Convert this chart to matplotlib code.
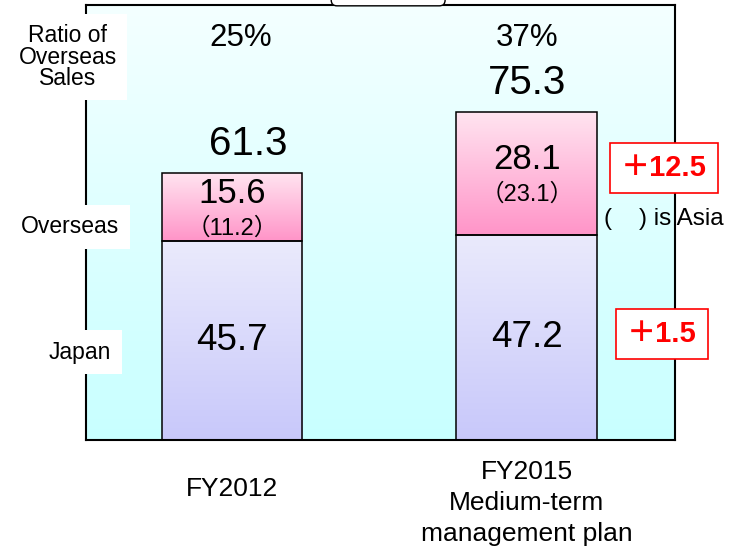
# stacked sales bars: Japan / Overseas, FY2012 vs FY2015 plan
import matplotlib.pyplot as plt
import numpy as np
from matplotlib.colors import LinearSegmentedColormap

years = ["FY2012", "FY2015\nMedium-term\nmanagement plan"]
japan = [45.7, 47.2]
overseas = [15.6, 28.1]
asia = [11.2, 23.1]
ratio = ["25%", "37%"]

totals = [j + o for j, o in zip(japan, overseas)]
FONT = ['Liberation Sans', 'Noto Sans CJK JP']
plt.rcParams['font.family'] = FONT


def grad_fill(ax, x0, x1, y0, y1, c_top, c_bot, z):
    cmap = LinearSegmentedColormap.from_list("g", [c_bot, c_top])
    g = np.linspace(0, 1, 256).reshape(-1, 1)
    ax.imshow(g, extent=(x0, x1, y0, y1), origin='lower', cmap=cmap,
              aspect='auto', zorder=z, interpolation='bicubic')


fig = plt.figure(figsize=(7.31, 5.5), dpi=100)
ax = fig.add_axes([86/731, 110/550, 589/731, 435/550])

xlim = (-0.495, 1.502)
ylim = (0, 100)
grad_fill(ax, xlim[0], xlim[1], ylim[0], ylim[1], '#f4ffff', '#c8ffff', 0)

x = np.arange(len(years))
w = 0.478
for i in range(len(years)):
    grad_fill(ax, x[i]-w/2, x[i]+w/2, 0, japan[i], '#eaeafc', '#c8c8fa', 1)
    grad_fill(ax, x[i]-w/2, x[i]+w/2, japan[i], totals[i], '#ffe4f0', '#ff94c8', 1)
ax.bar(x, japan, width=w, facecolor='none', edgecolor='black', lw=1.1, zorder=2)
ax.bar(x, overseas, bottom=japan, width=w, facecolor='none', edgecolor='black',
       lw=1.1, zorder=2)

ax.set_xlim(xlim)
ax.set_ylim(ylim)
ax.set_xticks([])
ax.set_yticks([])
for s in ax.spines.values():
    s.set_linewidth(1.5)

total_dx = [12, 0]
ratio_dx = [6, 0]
for i in range(len(years)):
    ax.annotate(f"{totals[i]:.1f}", (x[i], totals[i]), xytext=(total_dx[i], 13),
                textcoords='offset points', ha='center', va='baseline',
                fontsize=29)
    ax.annotate(ratio[i], (x[i], 0.925), xycoords=ax.get_xaxis_transform(),
                xytext=(ratio_dx[i], 0), textcoords='offset points',
                ha='center', va='center', fontsize=22.5)
    ax.annotate(f"{japan[i]:.1f}", (x[i], japan[i]/2), ha='center', va='center',
                fontsize=26.5)
    mid = japan[i] + overseas[i]/2
    ax.annotate(f"{overseas[i]:.1f}", (x[i], mid), xytext=(0, 10),
                textcoords='offset points', ha='center', va='center', fontsize=25)
    ax.annotate(f"（{asia[i]:.1f}）", (x[i], mid), xytext=(0, -15),
                textcoords='offset points', ha='center', va='center', fontsize=17)
    ax.text(x[i], -0.112 if i == 0 else -0.145, years[i],
            transform=ax.get_xaxis_transform(), ha='center', va='center',
            fontsize=19, linespacing=1.38)

# differences for the plan year
d_over = overseas[1] - overseas[0]
d_jp = japan[1] - japan[0]
red_box = dict(boxstyle='square,pad=0.38', fc='white', ec='red', lw=1.2)
ax.text(1.464, japan[1] + overseas[1]/2 + 1.2, f"＋{d_over:.1f}", ha='center',
        va='center', fontsize=21, weight='bold', color='red', bbox=red_box)
ax.text(1.457, japan[1]/2 + 0.7, f"＋{d_jp:.1f}", ha='center', va='center',
        fontsize=21, weight='bold', color='red', bbox=red_box)
ax.text(1.464, 50.7, "(    ) is Asia", ha='center', va='center', fontsize=17.5)

white = dict(boxstyle='square,pad=0.45', fc='white', ec='none')
ax.text(-0.0306, 0.88, "Ratio of\nOverseas\nSales", transform=ax.transAxes,
        ha='center', va='center', fontsize=16.5, linespacing=0.9, bbox=white)
ax.text(-0.027, 0.49, "Overseas", transform=ax.transAxes, ha='center',
        va='center', fontsize=16.5, bbox=white)
ax.text(-0.01, 0.202, "Japan", transform=ax.transAxes, ha='center',
        va='center', fontsize=16.5, bbox=white)

fig.text(0.531, 1.0, "(Billion yen)", ha='center', va='bottom', fontsize=14,
         bbox=dict(boxstyle='round,pad=0.3', fc='white', ec='black', lw=1))

plt.savefig('out.png')
